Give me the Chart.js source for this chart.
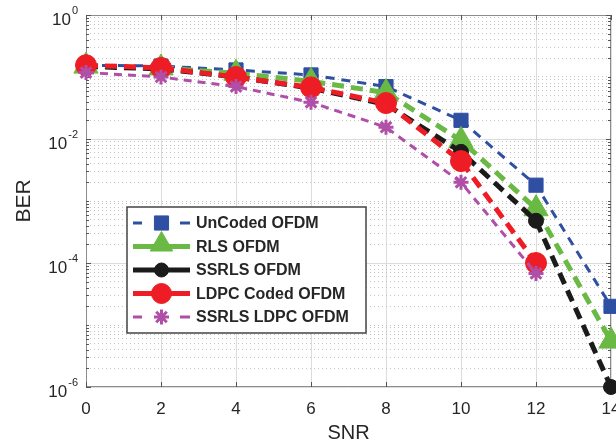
<!DOCTYPE html>
<html>
<head>
<meta charset="utf-8">
<script src="https://cdn.jsdelivr.net/npm/chart.js@4.4.1/dist/chart.umd.min.js"></script>
<style>
  html, body { margin: 0; padding: 0; background: #fff; }
  #wrap { width: 616px; height: 445px; }
</style>
</head>
<body>
<div id="wrap"><canvas id="berChart" width="616" height="445"></canvas></div>
<script>
const FONT = "'Liberation Sans', Arial, Helvetica, sans-serif";
const TEXT_COLOR = "#262626";

const snrValues = [0, 2, 4, 6, 8, 10, 12, 14];
const yDecadeLabels = [0, -2, -4, -6];

const seriesNames = [
  "UnCoded OFDM",
  "RLS OFDM",
  "SSRLS OFDM",
  "LDPC Coded OFDM",
  "SSRLS LDPC OFDM",
];

const uncodedBer = [0.155, 0.15, 0.13, 0.108, 0.07, 0.02, 0.0018, 2.0e-5];
const rlsBer = [0.15, 0.14, 0.115, 0.085, 0.056, 0.0095, 0.00075, 5.5e-6];
const ssrlsBer = [0.148, 0.135, 0.1, 0.066, 0.036, 0.0062, 0.00048, 1.0e-6];
const ldpcBer = [0.155, 0.14, 0.1, 0.068, 0.038, 0.0044, 1.0e-4, null];
const ssrlsLdpcBer = [0.118, 0.1, 0.07, 0.039, 0.0155, 0.002, 6.8e-5, null];

const styles = [
  { color: "#2f4fa2", width: 3, dash: [9, 7], point: "rect", radius: 10, border: 1, legendRadius: 10 },
  { color: "#69b944", width: 5, dash: [12, 7], point: "triangle", radius: 14, border: 1, legendRadius: 13 },
  { color: "#1b1b1b", width: 5, dash: [12, 7], point: "circle", radius: 7.5, border: 1, legendRadius: 7 },
  { color: "#ee1d25", width: 5, dash: [12, 7], point: "circle", radius: 10.5, border: 1, legendRadius: 10 },
  { color: "#b04fa7", width: 3, dash: [8, 6], point: "star", radius: 7.5, border: 3, legendRadius: 7.5 },
];

const allSeries = [uncodedBer, rlsBer, ssrlsBer, ldpcBer, ssrlsLdpcBer];

function isMajor(value) {
  const e = Math.log10(value);
  return Math.abs(e - Math.round(e)) < 1e-6 && Math.round(e) % 2 === 0;
}

const datasets = allSeries.map((values, i) => {
  const s = styles[i];
  return {
    label: seriesNames[i],
    data: snrValues.map((x, j) => ({ x, y: values[j] })),
    borderColor: s.color,
    backgroundColor: s.color,
    borderWidth: s.width,
    borderDash: s.dash,
    pointStyle: s.point,
    pointRadius: s.radius,
    pointBorderWidth: s.border,
    pointBackgroundColor: s.color,
    pointBorderColor: s.color,
    tension: 0,
    clip: false,
    spanGaps: false,
    order: 5 - i,
  };
});

// axis labels with superscripts, inner ticks and the box
const frameAndLabels = {
  id: "frameAndLabels",
  beforeDatasetsDraw(chart) {
    const { ctx, chartArea: a, scales } = chart;
    ctx.save();
    ctx.strokeStyle = "#8c8c8c";
    ctx.lineWidth = 1;
    ctx.setLineDash([]);
    ctx.strokeRect(a.left + 0.5, a.top + 0.5, a.right - a.left - 1, a.bottom - a.top - 1);

    ctx.strokeStyle = "#555";
    ctx.beginPath();
    snrValues.forEach((v) => {
      const x = Math.round(scales.x.getPixelForValue(v)) + 0.5;
      ctx.moveTo(x, a.bottom);
      ctx.lineTo(x, a.bottom - 5);
      ctx.moveTo(x, a.top);
      ctx.lineTo(x, a.top + 5);
    });
    scales.y.ticks.forEach((t) => {
      const y = Math.round(scales.y.getPixelForValue(t.value)) + 0.5;
      const len = isMajor(t.value) ? 5 : 3;
      ctx.moveTo(a.left, y);
      ctx.lineTo(a.left + len, y);
      ctx.moveTo(a.right, y);
      ctx.lineTo(a.right - len, y);
    });
    ctx.stroke();
    ctx.restore();
  },
  afterDraw(chart) {
    const { ctx, scales } = chart;
    ctx.save();
    ctx.fillStyle = TEXT_COLOR;
    ctx.textBaseline = "middle";
    yDecadeLabels.forEach((e) => {
      const y = scales.y.getPixelForValue(Math.pow(10, e));
      const sup = String(e);
      ctx.font = "11px " + FONT;
      const supW = ctx.measureText(sup).width;
      const right = 78;
      ctx.textAlign = "left";
      ctx.fillText(sup, right - supW, y - 4);
      ctx.font = "17px " + FONT;
      ctx.textAlign = "right";
      ctx.fillText("10", right - supW - 1, y + 5);
    });
    ctx.restore();
  },
};

const insideLegend = {
  id: "insideLegend",
  afterDraw(chart) {
    const { ctx } = chart;
    const box = { left: 127, top: 207, width: 239, height: 126 };
    ctx.save();
    ctx.fillStyle = "#fff";
    ctx.fillRect(box.left, box.top, box.width, box.height);
    ctx.strokeStyle = "#444";
    ctx.lineWidth = 1.5;
    ctx.strokeRect(box.left, box.top, box.width, box.height);

    seriesNames.forEach((name, i) => {
      const s = styles[i];
      const y = 223 + i * 23.5;
      ctx.strokeStyle = s.color;
      ctx.lineWidth = s.width;
      ctx.beginPath();
      if (s.width > 3) {
        ctx.moveTo(133, y);
        ctx.lineTo(190, y);
      } else {
        ctx.moveTo(133, y);
        ctx.lineTo(142, y);
        ctx.moveTo(180, y);
        ctx.lineTo(190, y);
      }
      ctx.stroke();
      ctx.fillStyle = s.color;
      ctx.lineWidth = s.border;
      Chart.helpers.drawPoint(ctx, {
        pointStyle: s.point,
        radius: s.legendRadius,
        rotation: 0,
        borderWidth: s.border,
      }, 161.5, s.point === "triangle" ? y - 2 : y);

      ctx.fillStyle = TEXT_COLOR;
      ctx.font = "bold 16px " + FONT;
      ctx.textAlign = "left";
      ctx.textBaseline = "middle";
      ctx.fillText(name, 196, y + 1);
    });
    ctx.restore();
  },
};

new Chart(document.getElementById("berChart"), {
  type: "line",
  data: { datasets },
  options: {
    responsive: false,
    devicePixelRatio: 1,
    animation: false,
    layout: { autoPadding: false, padding: { top: 15, right: 5, left: 0, bottom: 0 } },
    plugins: {
      legend: { display: false },
      tooltip: { enabled: false },
    },
    scales: {
      x: {
        type: "linear",
        min: 0,
        max: 14,
        ticks: {
          stepSize: 2,
          color: TEXT_COLOR,
          font: { family: FONT, size: 17 },
          padding: 12,
          maxRotation: 0,
        },
        grid: { color: "#dcdcdc", lineWidth: 1, drawTicks: false },
        border: { display: false },
        title: {
          display: true,
          text: "SNR",
          color: TEXT_COLOR,
          font: { family: FONT, size: 20 },
          padding: { top: 0, bottom: 0 },
        },
        afterFit(scale) {
          scale.height = 58;
          scale.paddingLeft = 0;
          scale.paddingRight = 0;
        },
      },
      y: {
        type: "logarithmic",
        min: 1e-6,
        max: 1,
        afterBuildTicks(scale) {
          const ticks = [];
          for (let e = -6; e <= 0; e += 1) {
            for (let m = 1; m <= 9; m += 1) {
              const v = m * Math.pow(10, e);
              if (v <= 1.0000001) ticks.push({ value: v });
            }
          }
          scale.ticks = ticks;
        },
        ticks: { display: false },
        grid: {
          drawTicks: false,
          lineWidth: 1,
          color: (c) => (c.tick && isMajor(c.tick.value) ? "#dcdcdc" : "#c4c4c4"),
        },
        border: {
          display: false,
          dash: (c) => (c.tick && isMajor(c.tick.value) ? [] : [1, 3]),
        },
        title: {
          display: true,
          text: "BER",
          color: TEXT_COLOR,
          font: { family: FONT, size: 21 },
          padding: { top: 12, bottom: 0 },
        },
        afterFit(scale) {
          scale.width = 86;
          scale.paddingTop = 0;
          scale.paddingBottom = 0;
        },
      },
    },
  },
  plugins: [frameAndLabels, insideLegend],
});
</script>
</body>
</html>
